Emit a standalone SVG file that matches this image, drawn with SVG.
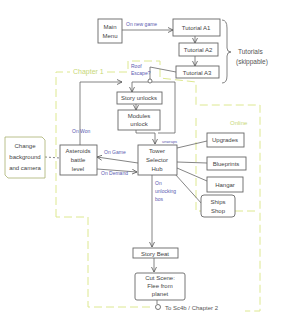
<svg xmlns="http://www.w3.org/2000/svg" width="281" height="320" viewBox="0 0 281 320">
<defs>
<marker id="ah" markerWidth="6" markerHeight="6" refX="5" refY="3" orient="auto" markerUnits="userSpaceOnUse">
<path d="M0,0.5 L5,3 L0,5.5" fill="none" stroke="#555" stroke-width="0.8"/>
</marker>
</defs>
<style>
.box{fill:#fff;stroke:#666;stroke-width:0.9}
.t{font-family:"Liberation Sans",Arial,sans-serif;font-size:6px;fill:#444;text-anchor:middle}
.lb{font-family:"Liberation Sans",Arial,sans-serif;font-size:5px;fill:#5a5ab0}
.ln{fill:none;stroke:#666;stroke-width:0.8}
.gd{fill:none;stroke:#dde890;stroke-width:1;stroke-dasharray:8,4}
.gt{font-family:"Liberation Sans",Arial,sans-serif;font-size:7px;fill:#c8d878}
</style>
<rect width="281" height="320" fill="#fff"/>

<g id="regions">
<path class="gd" d="M56,217 V72 H70 M107,72 H128 V61 H160 V78 L196,82 V105 H260 V311 H245 M150,307 H88 V217 H56"/>
<path class="gd" d="M196,118 V211 H258"/>
<text class="gt" x="73" y="74">Chapter 1</text>
<text class="gt" x="230" y="125" style="font-size:6px">Online</text>
</g>

<g id="connectors">
<path class="ln" d="M122,30 H173" marker-end="url(#ah)"/>
<path class="ln" d="M195,36 V43" marker-end="url(#ah)"/>
<path class="ln" d="M195,56 V66" marker-end="url(#ah)"/>
<path class="ln" d="M176,72 L150,67 V79"/>
<circle cx="150" cy="81" r="2" fill="none" stroke="#555" stroke-width="0.8"/>
<path class="ln" d="M148,82 H132 V92" marker-end="url(#ah)"/>
<path class="ln" d="M80,145 V82 H122" marker-end="url(#ah)"/>
<path class="ln" d="M152,82 H175 V133 H158"/>
<path class="ln" d="M136,104 V110" marker-end="url(#ah)"/>
<path class="ln" d="M136,130 V133 H155 V144" marker-end="url(#ah)"/>
<path class="ln" d="M138,163 L97,157" marker-end="url(#ah)"/>
<path class="ln" d="M97,169 L137,172" marker-end="url(#ah)"/>
<path class="ln" d="M45,157 L60,158" style="stroke-dasharray:2,2"/>
<path class="ln" d="M177,148 L207,141"/>
<path class="ln" d="M177,162 L207,163"/>
<path class="ln" d="M177,168 L207,181"/>
<path class="ln" d="M175,174 L202,204"/>
<path class="ln" d="M152,175 V247" marker-end="url(#ah)"/>
<path class="ln" d="M154,258 V272" marker-end="url(#ah)"/>
<path class="ln" d="M157,300 V304"/>
<circle cx="158" cy="307" r="2.5" fill="none" stroke="#555" stroke-width="0.8"/>
<path class="ln" d="M222,20 Q227,20 227,28 V48 Q227,52 231,52 Q227,52 227,56 V76 Q227,83 222,83"/>
<text class="lb" x="126" y="26">On new game</text>
<text class="lb" x="131" y="68">Roof</text>
<text class="lb" x="131" y="75">Escape?</text>
<text class="lb" x="72" y="133">On Won</text>
<text class="lb" x="104" y="154">On Game</text>
<text class="lb" x="101" y="175">On Demand</text>
<text class="lb" x="162" y="143" style="font-size:4px">unwraps</text>
<text class="lb" x="155" y="185">On</text>
<text class="lb" x="155" y="193">unlocking</text>
<text class="lb" x="155" y="201">bos</text>
<text x="165" y="310" style="font-family:'Liberation Sans',Arial,sans-serif;font-size:6px;fill:#555">To Sc4b / Chapter 2</text>
<text x="238" y="54" style="font-family:'Liberation Sans',Arial,sans-serif;font-size:6.5px;fill:#555">Tutorials</text>
<text x="236" y="64" style="font-family:'Liberation Sans',Arial,sans-serif;font-size:6.5px;fill:#555">(skippable)</text>
</g>

<g id="main-menu"><rect class="box" x="98" y="19" width="24" height="24"/><text class="t" x="110" y="29">Main</text><text class="t" x="110" y="38">Menu</text></g>
<g id="tutorial-a1"><rect class="box" x="173" y="19" width="47" height="17"/><text class="t" x="196" y="30">Tutorial A1</text></g>
<g id="tutorial-a2"><rect class="box" x="179" y="43" width="39" height="13"/><text class="t" x="198" y="52">Tutorial A2</text></g>
<g id="tutorial-a3"><rect class="box" x="176" y="66" width="43" height="12"/><text class="t" x="197" y="75">Tutorial A3</text></g>
<g id="story-unlocks"><rect class="box" x="117" y="92" width="45" height="12"/><text class="t" x="139" y="100">Story unlocks</text></g>
<g id="modules-unlock"><rect class="box" x="118" y="110" width="42" height="20"/><text class="t" x="139" y="118">Modules</text><text class="t" x="139" y="126">unlock</text></g>
<g id="change-bg"><path d="M5,137 H42 L45,140 V178 H8 L5,175 Z" fill="#fff" stroke="#a8b070" stroke-width="0.8"/><text class="t" x="25" y="148">Change</text><text class="t" x="25" y="159">background</text><text class="t" x="25" y="170">and camera</text></g>
<g id="asteroids"><rect class="box" x="60" y="145" width="37" height="30"/><text class="t" x="78" y="153">Asteroids</text><text class="t" x="78" y="162">battle</text><text class="t" x="78" y="171">level</text></g>
<g id="tower-hub"><rect class="box" x="138" y="145" width="39" height="30"/><text class="t" x="157" y="153">Tower</text><text class="t" x="157" y="162">Selector</text><text class="t" x="157" y="171">Hub</text></g>
<g id="upgrades"><rect class="box" x="207" y="133" width="37" height="14"/><text class="t" x="225" y="142">Upgrades</text></g>
<g id="blueprints"><rect class="box" x="207" y="157" width="39" height="13"/><text class="t" x="226" y="166">Blueprints</text></g>
<g id="hangar"><rect class="box" x="207" y="177" width="36" height="15"/><text class="t" x="225" y="187">Hangar</text></g>
<g id="ships-shop"><rect class="box" x="201" y="195" width="34" height="22" rx="3"/><text class="t" x="218" y="204">Ships</text><text class="t" x="218" y="213">Shop</text></g>
<g id="story-beat"><rect class="box" x="133" y="248" width="45" height="10"/><text class="t" x="155" y="255.5">Story Beat</text></g>
<g id="cut-scene"><rect class="box" x="135" y="273" width="50" height="27" rx="2"/><text class="t" x="160" y="280">Cut Scene:</text><text class="t" x="160" y="288">Flee from</text><text class="t" x="160" y="296">planet</text></g>
</svg>
